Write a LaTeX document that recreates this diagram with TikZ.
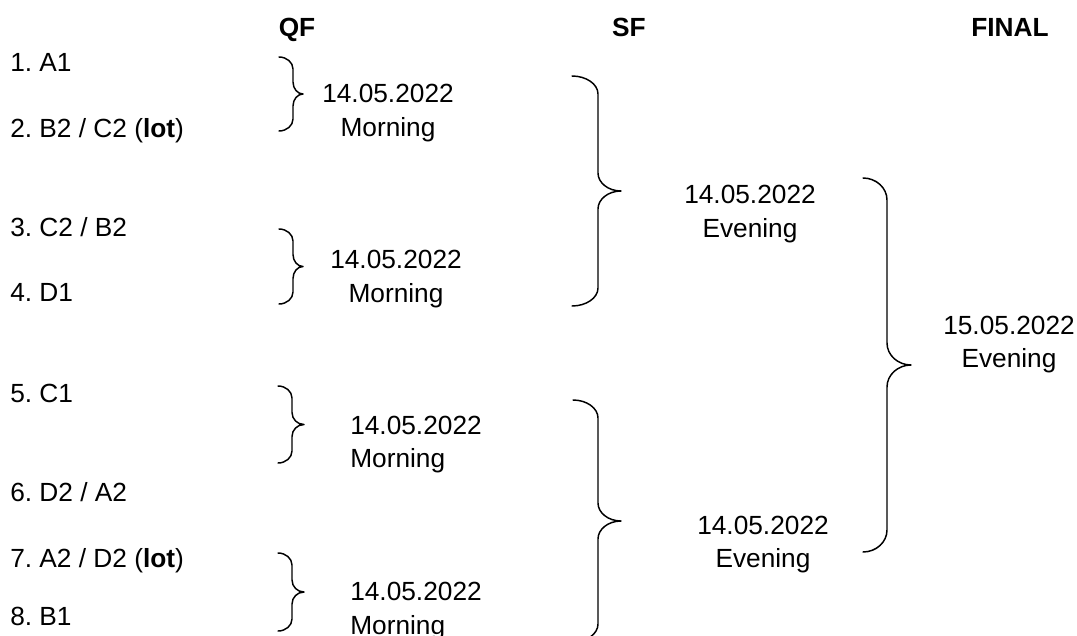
\documentclass[tikz,border=0pt]{standalone}
\usepackage{fontspec}
\setmainfont{Liberation Sans}
\frenchspacing
\newcommand{\diagfont}{\fontsize{19.7}{25}\selectfont}
\tikzset{%
  team/.style    = {anchor=base west, inner sep=0pt, font=\diagfont},%
  stage/.style   = {anchor=base, inner sep=0pt, font=\diagfont\bfseries},%
  match/.style   = {align=center, inner sep=0pt, font=\diagfont},%
  matchl/.style  = {match, align=left, anchor=west},%
  bracket/.style = {line width=1.1pt, line cap=round, line join=round}%
}
% right curly bracket: ends x, stem x, tip x, top y, bottom y, curl
\newcommand{\rbracket}[6]{%
  \draw[bracket] ({#1},{#4}) .. controls ({#1+0.55*(#2-#1)},{#4}) and ({#2},{#4+0.45*#6}) .. ({#2},{#4+#6})
    -- ({#2},{(#4+#5)/2-#6}) .. controls ({#2},{(#4+#5)/2-0.45*#6}) and ({#2+0.45*(#3-#2)},{(#4+#5)/2}) .. ({#3},{(#4+#5)/2})
    .. controls ({#2+0.45*(#3-#2)},{(#4+#5)/2}) and ({#2},{(#4+#5)/2+0.45*#6}) .. ({#2},{(#4+#5)/2+#6})
    -- ({#2},{#5-#6}) .. controls ({#2},{#5-0.45*#6}) and ({#1+0.55*(#2-#1)},{#5}) .. ({#1},{#5});
}
\begin{document}
\begin{tikzpicture}[x=0.75pt, y=-0.75pt]
  \useasboundingbox (0,0) rectangle (1077,635);
  % rounds
  \node[stage] (qf) at (297,37) {QF};
  \node[stage] (sf) at (629,37) {SF};
  \node[stage] (final) at (1010,37) {FINAL};
  % teams
  \node[team] (t1) at (10,71)  {1. A1};
  \node[team] (t2) at (10,137) {2. B2 / C2 (\textbf{lot})};
  \node[team] (t3) at (10,236) {3. C2 / B2};
  \node[team] (t4) at (10,301) {4. D1};
  \node[team] (t5) at (10,402) {5. C1};
  \node[team] (t6) at (10,501) {6. D2 / A2};
  \node[team] (t7) at (10,567) {7. A2 / D2 (\textbf{lot})};
  \node[team] (t8) at (10,625) {8. B1};
  % quarter finals
  \rbracket{279}{293}{303}{57}{131}{12}
  \rbracket{279}{293}{303}{229}{304}{12}
  \rbracket{278}{292}{304}{386}{463}{12}
  \rbracket{278}{292}{304}{553}{631}{12}
  \node[match]  (qf1) at (388,113)   {14.05.2022\\Morning};
  \node[match]  (qf2) at (396,279)   {14.05.2022\\Morning};
  \node[matchl] (qf3) at (350,444.5) {14.05.2022\\Morning};
  \node[matchl] (qf4) at (350,611)   {14.05.2022\\Morning};
  % semi finals
  \rbracket{572}{598}{621}{76}{306}{18}
  \rbracket{573}{598}{621}{400}{642}{18}
  \node[match] (sf1) at (750,214)   {14.05.2022\\Evening};
  \node[match] (sf2) at (763,544.5) {14.05.2022\\Evening};
  % final
  \rbracket{863}{887}{911}{178}{552}{22}
  \node[match] (fin) at (1009,344.5) {15.05.2022\\Evening};
\end{tikzpicture}
\end{document}
